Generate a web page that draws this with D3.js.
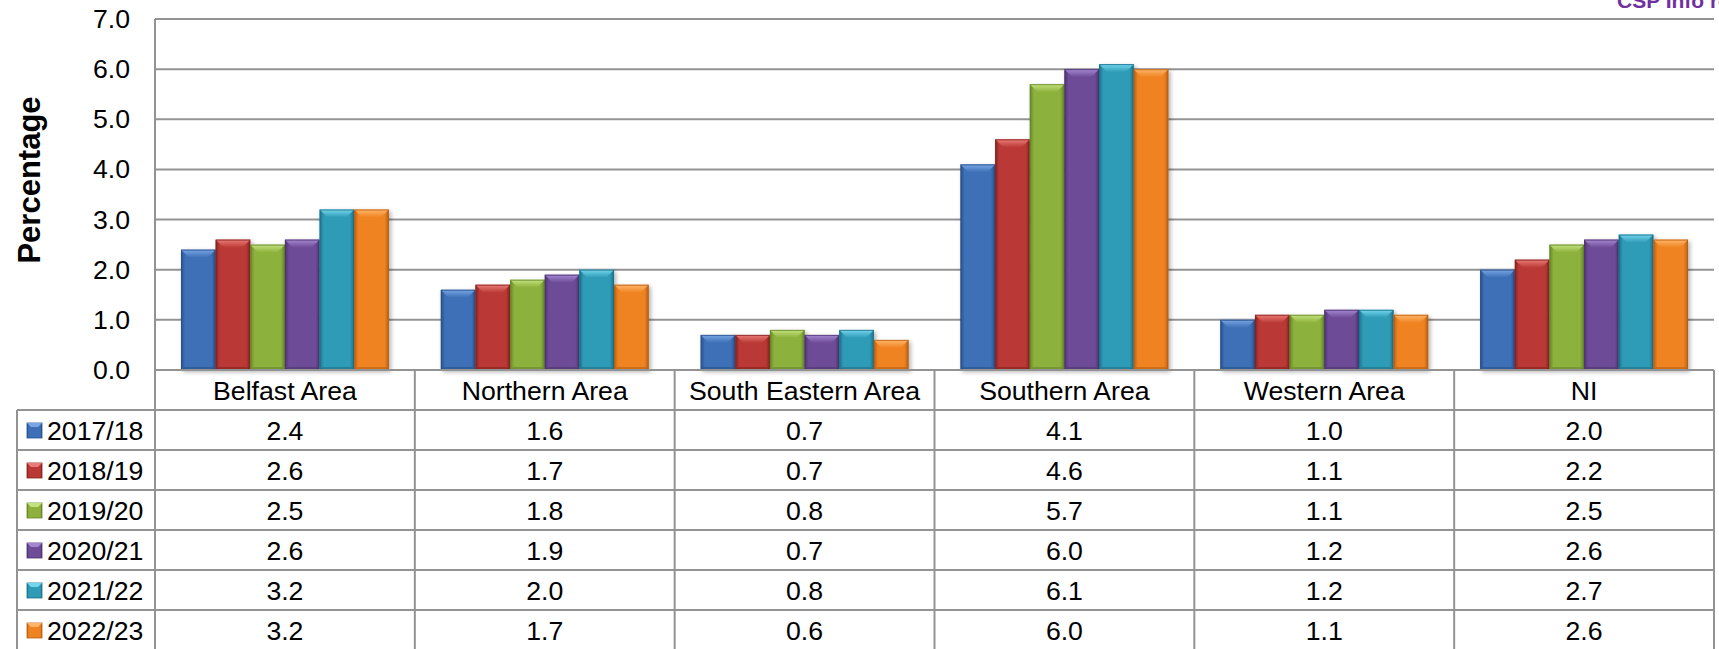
<!DOCTYPE html>
<html>
<head>
<meta charset="utf-8">
<script src="https://cdn.jsdelivr.net/npm/d3@7"></script>
<style>
  html, body { margin: 0; padding: 0; background: #fff; }
  svg { display: block; }
  text { font-family: "Liberation Sans", Arial, sans-serif; fill: #000; }
</style>
</head>
<body>
<svg id="chart" width="1719" height="649"></svg>
<script>
// ---- data ----
const categories = ["Belfast Area", "Northern Area", "South Eastern Area", "Southern Area", "Western Area", "NI"];
const seriesNames = ["2017/18", "2018/19", "2019/20", "2020/21", "2021/22", "2022/23"];
const v2017 = [2.4, 1.6, 0.7, 4.1, 1.0, 2.0];
const v2018 = [2.6, 1.7, 0.7, 4.6, 1.1, 2.2];
const v2019 = [2.5, 1.8, 0.8, 5.7, 1.1, 2.5];
const v2020 = [2.6, 1.9, 0.7, 6.0, 1.2, 2.6];
const v2021 = [3.2, 2.0, 0.8, 6.1, 1.2, 2.7];
const v2022 = [3.2, 1.7, 0.6, 6.0, 1.1, 2.6];
const yTicks = [0, 1, 2, 3, 4, 5, 6, 7];
const yTitle = "Percentage";
const cornerNote = "CSP Info re";

const seriesValues = [v2017, v2018, v2019, v2020, v2021, v2022];
const colors = [
  {base: "#3D70B6", dark: "#27508A", light: "#7AA6E6"},
  {base: "#BA3935", dark: "#862220", light: "#EC7C78"},
  {base: "#8DB13C", dark: "#66862A", light: "#C4E37E"},
  {base: "#6E4C97", dark: "#4D336F", light: "#A688D2"},
  {base: "#2F9BB7", dark: "#1C7189", light: "#75D6EE"},
  {base: "#EF8322", dark: "#B95E12", light: "#FFB66A"}
];

// ---- layout ----
const plotLeft = 155, plotRight = 1714;
const yTop = 19, yZero = 370;
const rowH = 40, tableLeft = 17;
const fontSize = 26.67;
const gridColor = "#939393";

const svg = d3.select("#chart");
const defs = svg.append("defs");

const x0 = d3.scaleBand().domain(categories).range([plotLeft, plotRight]).padding(0);
const bw = x0.bandwidth();
const groupW = bw * 6 / 7.5;
const x1 = d3.scaleBand().domain(seriesNames).range([0, groupW]).padding(0);
const y = d3.scaleLinear().domain([0, 7]).range([yZero, yTop]);

// gradients
colors.forEach((c, i) => {
  const g = defs.append("linearGradient").attr("id", "grad" + i)
    .attr("x1", "0").attr("x2", "1").attr("y1", "0").attr("y2", "0");
  g.append("stop").attr("offset", "0").attr("stop-color", c.dark);
  g.append("stop").attr("offset", "0.12").attr("stop-color", c.base);
  g.append("stop").attr("offset", "0.5").attr("stop-color", c.base);
  g.append("stop").attr("offset", "0.88").attr("stop-color", c.base);
  g.append("stop").attr("offset", "1").attr("stop-color", c.dark);
  const t = defs.append("linearGradient").attr("id", "top" + i)
    .attr("x1", "0").attr("x2", "0").attr("y1", "0").attr("y2", "1");
  t.append("stop").attr("offset", "0").attr("stop-color", c.light);
  t.append("stop").attr("offset", "1").attr("stop-color", c.base);
});
const f = defs.append("filter").attr("id", "shadow")
  .attr("x", "-20%").attr("y", "-10%").attr("width", "150%").attr("height", "130%");
f.append("feDropShadow").attr("dx", 2).attr("dy", 2).attr("stdDeviation", 2)
  .attr("flood-color", "#000").attr("flood-opacity", 0.3);

// gridlines
svg.append("g").selectAll("line").data(yTicks.filter(d => d > 0)).join("line")
  .attr("x1", plotLeft).attr("x2", plotRight)
  .attr("y1", d => y(d)).attr("y2", d => y(d))
  .attr("stroke", gridColor).attr("stroke-width", 2);

// y tick labels
svg.append("g").selectAll("text").data(yTicks).join("text")
  .attr("x", 130).attr("y", d => y(d))
  .attr("text-anchor", "end").attr("dominant-baseline", "central")
  .style("font-size", fontSize + "px")
  .text(d => d3.format(".1f")(d));

// y title
svg.append("text")
  .attr("transform", "translate(40,180) rotate(-90)")
  .attr("text-anchor", "middle")
  .style("font-size", "31px").style("font-weight", "bold")
  .text(yTitle);

// corner note
svg.append("text").attr("x", 1617).attr("y", 8)
  .style("font-size", "21px").style("font-weight", "bold").style("fill", "#7030A0")
  .text(cornerNote);

// bars
const barData = [];
seriesValues.forEach((vals, si) => {
  vals.forEach((v, ci) => barData.push({si, ci, v}));
});
const bars = svg.append("g").selectAll("g").data(barData).join("g")
  .attr("filter", "url(#shadow)");
bars.each(function(d) {
  const g = d3.select(this);
  const bx = x0(categories[d.ci]) + (bw - groupW) / 2 + x1(seriesNames[d.si]);
  const w = x1.bandwidth();
  const top = y(d.v);
  const h = yZero - top;
  const b = Math.min(8, h / 2);
  const c = colors[d.si];
  g.append("rect").attr("x", bx).attr("y", top).attr("width", w).attr("height", h)
    .attr("fill", "url(#grad" + d.si + ")");
  g.append("polygon")
    .attr("points", [[bx, top], [bx + w, top], [bx + w - b, top + b], [bx + b, top + b]].map(p => p.join(",")).join(" "))
    .attr("fill", "url(#top" + d.si + ")");
  g.append("polygon")
    .attr("points", [[bx, yZero], [bx + w, yZero], [bx + w - 3, yZero - 3], [bx + 3, yZero - 3]].map(p => p.join(",")).join(" "))
    .attr("fill", c.dark).attr("opacity", 0.6);
  g.append("rect").attr("x", bx + 0.5).attr("y", top + 0.5).attr("width", w - 1).attr("height", h - 1)
    .attr("fill", "none").attr("stroke", c.dark).attr("stroke-width", 1).attr("opacity", 0.8);
});

// ---- data table ----
const tableBottom = yZero + rowH * (seriesNames.length + 1);
const tg = svg.append("g");
// horizontal lines
tg.append("line").attr("x1", plotLeft).attr("x2", plotRight).attr("y1", yZero).attr("y2", yZero)
  .attr("stroke", gridColor).attr("stroke-width", 2);
tg.selectAll("line.h").data(d3.range(1, seriesNames.length + 2)).join("line").attr("class", "h")
  .attr("x1", tableLeft).attr("x2", plotRight)
  .attr("y1", d => yZero + d * rowH).attr("y2", d => yZero + d * rowH)
  .attr("stroke", gridColor).attr("stroke-width", 2);
// vertical lines
tg.append("line").attr("x1", plotLeft).attr("x2", plotLeft).attr("y1", yTop).attr("y2", tableBottom)
  .attr("stroke", gridColor).attr("stroke-width", 2);
tg.append("line").attr("x1", tableLeft).attr("x2", tableLeft).attr("y1", yZero + rowH).attr("y2", tableBottom)
  .attr("stroke", gridColor).attr("stroke-width", 2);
tg.selectAll("line.v").data(categories).join("line").attr("class", "v")
  .attr("x1", d => x0(d) + bw).attr("x2", d => x0(d) + bw)
  .attr("y1", yZero).attr("y2", tableBottom)
  .attr("stroke", gridColor).attr("stroke-width", 2);

// category labels
tg.selectAll("text.cat").data(categories).join("text").attr("class", "cat")
  .attr("x", d => x0(d) + bw / 2).attr("y", yZero + rowH / 2 + 1)
  .attr("text-anchor", "middle").attr("dominant-baseline", "central")
  .style("font-size", fontSize + "px").text(d => d);

// legend keys & labels
seriesNames.forEach((s, si) => {
  const ry = yZero + rowH * (si + 1);
  const c = colors[si];
  const kx = 27, ky = ry + 13, ks = 15;
  tg.append("rect").attr("x", kx).attr("y", ky).attr("width", ks).attr("height", ks)
    .attr("fill", "url(#grad" + si + ")").attr("stroke", c.dark).attr("stroke-width", 0.8);
  tg.append("polygon")
    .attr("points", [[kx, ky], [kx + ks, ky], [kx + ks - 4, ky + 4], [kx + 4, ky + 4]].map(p => p.join(",")).join(" "))
    .attr("fill", c.light);
  tg.append("text").attr("x", 47).attr("y", ry + rowH / 2 + 1)
    .attr("dominant-baseline", "central")
    .style("font-size", fontSize + "px").text(s);
  tg.selectAll("text.val" + si).data(seriesValues[si]).join("text").attr("class", "val" + si)
    .attr("x", (d, ci) => x0(categories[ci]) + bw / 2).attr("y", ry + rowH / 2 + 1)
    .attr("text-anchor", "middle").attr("dominant-baseline", "central")
    .style("font-size", fontSize + "px").text(d => d3.format(".1f")(d));
});
</script>
</body>
</html>
